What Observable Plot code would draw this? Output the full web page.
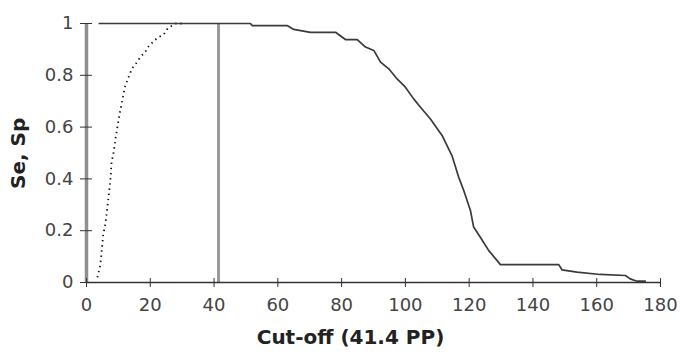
<!DOCTYPE html>
<html>
<head>
<meta charset="utf-8">
<script src="https://cdn.jsdelivr.net/npm/d3@7"></script>
<script src="https://cdn.jsdelivr.net/npm/@observablehq/plot@0.6"></script>
<style>
  html, body { margin: 0; padding: 0; background: #fff; }
  #chart { width: 680px; height: 352px; }
</style>
</head>
<body>
<div id="chart"></div>
<script>
// Sensitivity (solid) curve
const seX = [4, 51.4, 52, 62.9, 65, 70.2, 78.1, 81.2, 84.9, 87.5, 90.1, 92.2, 94.8, 97.4, 100, 102.6, 104.8, 107.8, 111.5, 114.6, 116.7, 118.3, 120.4, 121.4, 123.5, 126.1, 129.8, 148.1, 149.1, 153.8, 161.1, 169, 170.5, 172.6, 175.2];
const seY = [1, 1, 0.992, 0.992, 0.977, 0.966, 0.966, 0.938, 0.938, 0.909, 0.896, 0.851, 0.825, 0.786, 0.754, 0.709, 0.676, 0.632, 0.568, 0.49, 0.407, 0.355, 0.278, 0.214, 0.175, 0.124, 0.069, 0.069, 0.049, 0.040, 0.031, 0.027, 0.014, 0.005, 0.005];
// Specificity (dotted) curve
const spX = [3.4, 4.2, 4.7, 5.2, 6.0, 6.5, 7.0, 7.5, 7.8, 8.6, 9.1, 9.6, 10.3, 10.9, 11.4, 12.0, 12.8, 13.5, 14.3, 15.6, 16.9, 18.5, 19.5, 20.9, 22.4, 24.2, 25.5, 28, 30];
const spY = [0.02, 0.059, 0.111, 0.181, 0.233, 0.285, 0.342, 0.394, 0.458, 0.51, 0.555, 0.593, 0.645, 0.683, 0.715, 0.754, 0.78, 0.803, 0.827, 0.847, 0.87, 0.892, 0.912, 0.93, 0.946, 0.957, 0.982, 1, 1];
const cutoff = [41.4];
const xTicks = [0, 20, 40, 60, 80, 100, 120, 140, 160, 180];
const yTicks = [0, 0.2, 0.4, 0.6, 0.8, 1];
const xTitle = "Cut-off (41.4 PP)";
const yTitle = "Se, Sp";

const se = seX.map((x, i) => ({x, y: seY[i]}));
const sp = spX.map((x, i) => ({x, y: spY[i]}));

const chart = Plot.plot({
  width: 680,
  height: 352,
  marginLeft: 86,
  marginRight: 20,
  marginTop: 23,
  marginBottom: 70,
  style: {fontFamily: "'DejaVu Sans', sans-serif", fontSize: "18px", color: "#3a3a3a", background: "#fff"},
  x: {domain: [0, 180]},
  y: {domain: [0, 1]},
  marks: [
    Plot.ruleX(cutoff, {y1: 0, y2: 1, stroke: "#9a9a9a", strokeWidth: 3}),
    Plot.ruleX([0], {y1: 0, y2: 1, stroke: "#8f8f8f", strokeWidth: 3.5}),
    Plot.ruleY([0], {x1: 0, x2: 180, stroke: "#333", strokeWidth: 1.6}),
    // outward ticks + labels
    Plot.axisY({ticks: yTicks, tickSize: 6, tickPadding: 7, tickFormat: d => String(d), label: null, stroke: "#333", fill: "#444", fontSize: 18}),
    // inward half of the crossing ticks
    Plot.axisY({ticks: yTicks, tickSize: -6, tickFormat: () => "", label: null, stroke: "#333"}),
    Plot.axisX({ticks: xTicks, tickSize: 5, tickPadding: 11, tickFormat: d => String(d), label: null, stroke: "#333", fill: "#444", fontSize: 18}),
    Plot.axisX({ticks: xTicks, tickSize: -4, tickFormat: () => "", label: null, stroke: "#333"}),
    Plot.line(sp, {x: "x", y: "y", stroke: "#111", strokeWidth: 1.8, strokeDasharray: "1.4,3.8", strokeLinecap: "butt"}),
    Plot.line(se, {x: "x", y: "y", stroke: "#3a3a3a", strokeWidth: 1.7}),
    Plot.text([xTitle], {frameAnchor: "bottom", dx: -23, dy: 61, lineAnchor: "bottom", fontWeight: "bold", fontSize: 20, fill: "#222"}),
    Plot.text([yTitle], {frameAnchor: "left", dx: -68, dy: 36, rotate: -90, fontWeight: "bold", fontSize: 20, fill: "#222"})
  ]
});
document.getElementById("chart").appendChild(chart);
</script>
</body>
</html>
